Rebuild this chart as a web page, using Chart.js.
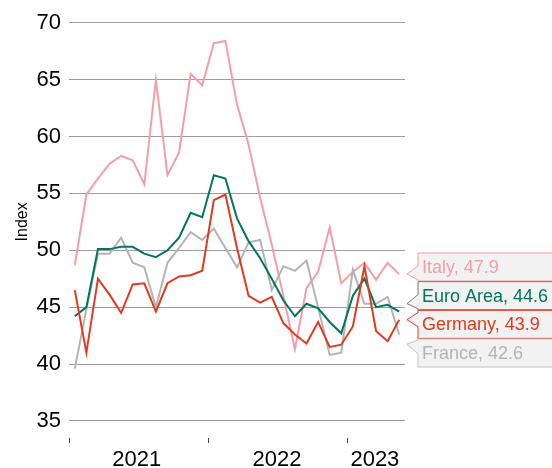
<!DOCTYPE html>
<html>
<head>
<meta charset="utf-8">
<script src="https://cdn.jsdelivr.net/npm/chart.js@4/dist/chart.umd.min.js"></script>
<style>
  html, body { margin: 0; padding: 0; background: #fff; }
  #wrap { width: 552px; height: 468px; position: relative; }
</style>
</head>
<body>
<div id="wrap"><canvas id="chart"></canvas></div>
<script>
// monthly values, Jan 2021 .. May 2023
const months = [
  'Jan 2021', 'Feb 2021', 'Mar 2021', 'Apr 2021', 'May 2021', 'Jun 2021', 'Jul 2021', 'Aug 2021',
  'Sep 2021', 'Oct 2021', 'Nov 2021', 'Dec 2021', 'Jan 2022', 'Feb 2022', 'Mar 2022', 'Apr 2022',
  'May 2022', 'Jun 2022', 'Jul 2022', 'Aug 2022', 'Sep 2022', 'Oct 2022', 'Nov 2022', 'Dec 2022',
  'Jan 2023', 'Feb 2023', 'Mar 2023', 'Apr 2023', 'May 2023'
];
const italy = [48.7, 54.9, 56.3, 57.6, 58.3, 57.9, 55.8, 65.0, 56.6, 58.6, 65.5, 64.5, 68.2, 68.4, 62.8,
  59.3, 54.6, 50.5, 46.0, 41.3, 46.7, 48.1, 52.0, 47.1, 48.1, 48.9, 47.4, 48.9, 47.9];
const euroArea = [44.2, 45.0, 50.1, 50.1, 50.3, 50.3, 49.7, 49.4, 50.0, 51.1, 53.3, 52.9, 56.6, 56.3, 52.8,
  50.8, 49.3, 47.5, 45.6, 44.2, 45.3, 44.9, 43.7, 42.7, 46.0, 47.5, 45.0, 45.2, 44.6];
const germany = [46.5, 41.0, 47.5, 46.1, 44.5, 47.0, 47.1, 44.6, 47.1, 47.7, 47.8, 48.2, 54.4, 54.9, 50.2,
  46.0, 45.4, 45.9, 43.6, 42.6, 41.8, 43.7, 41.5, 41.7, 43.3, 48.6, 42.9, 42.0, 43.9];
const france = [39.6, 44.8, 49.7, 49.7, 51.1, 48.9, 48.5, 45.0, 48.9, 50.2, 51.6, 50.9, 51.9, 50.2, 48.5,
  50.7, 50.9, 46.5, 48.6, 48.2, 49.1, 45.0, 40.8, 41.0, 48.3, 45.3, 45.3, 45.9, 42.6];

const yTicks = [35, 40, 45, 50, 55, 60, 65, 70];
const yearLabels = ['2021', '2022', '2023'];
const yearStarts = [0, 12, 24];          // month index where each year begins
const yearLabelPos = [5.85, 17.95, 26.4]; // where the year text sits

const series = [
  { name: 'Germany', data: germany, color: '#e03a1f', box: '#e03a1f' },
  { name: 'Euro Area', data: euroArea, color: '#00775c', box: '#7a7a7a' },
  { name: 'France', data: france, color: '#b4b4b4', box: '#c4c4c4' },
  { name: 'Italy', data: italy, color: '#f59ea8', box: '#f59ea8' }
];

const FONT = "'Liberation Sans', Arial, sans-serif";
Chart.defaults.font.family = FONT;
Chart.defaults.color = '#000';

const toPoints = arr => arr.map((v, i) => ({ x: i + 0.5, y: v }));

// callout boxes at the right end of each line, plus the y title
const endLabels = {
  id: 'endLabels',
  afterDatasetsDraw(chart) {
    const ctx = chart.ctx;
    const ys = chart.scales.y;
    const boxH = 28, step = 28.7;
    const tipX = 407, boxL = 418, boxR = 560;
    const items = series.map(s => {
      const last = s.data[s.data.length - 1];
      return { s, last, py: ys.getPixelForValue(last) };
    }).sort((a, b) => a.py - b.py);
    const mean = items.reduce((t, it) => t + it.py, 0) / items.length;
    ctx.save();
    items.forEach((it, i) => {
      const cy = mean + (i - (items.length - 1) / 2) * step;
      const top = cy - boxH / 2, bottom = cy + boxH / 2;
      const tipY = Math.min(Math.max(it.py, top + 5), bottom - 6);
      const half = 7;
      const baseY = Math.min(Math.max(tipY, top + half + 1), bottom - half - 1);
      ctx.beginPath();
      ctx.moveTo(boxL, top);
      ctx.lineTo(boxR, top);
      ctx.lineTo(boxR, bottom);
      ctx.lineTo(boxL, bottom);
      ctx.lineTo(boxL, baseY + half);
      ctx.lineTo(tipX, tipY);
      ctx.lineTo(boxL, baseY - half);
      ctx.closePath();
      ctx.fillStyle = '#f2f2f2';
      ctx.fill();
      ctx.lineWidth = 1;
      ctx.strokeStyle = it.s.box;
      ctx.stroke();
      ctx.fillStyle = it.s.color;
      ctx.font = '18px ' + FONT;
      ctx.textBaseline = 'middle';
      ctx.textAlign = 'left';
      ctx.fillText(it.s.name + ', ' + it.last.toFixed(1), 422, cy + 1);
    });

    // axis title
    const midY = (ys.getPixelForValue(yTicks[0]) + ys.getPixelForValue(yTicks[yTicks.length - 1])) / 2;
    ctx.translate(22.5, midY);
    ctx.rotate(-Math.PI / 2);
    ctx.fillStyle = '#000';
    ctx.font = '16px ' + FONT;
    ctx.textAlign = 'center';
    ctx.textBaseline = 'middle';
    ctx.fillText('Index', 0, 0);
    ctx.restore();
  }
};

new Chart(document.getElementById('chart'), {
  type: 'line',
  data: {
    datasets: series.map(s => ({
      label: s.name,
      data: toPoints(s.data),
      borderColor: s.color,
      backgroundColor: s.color,
      borderWidth: 2,
      pointRadius: 0,
      tension: 0
    }))
  },
  options: {
    responsive: true,
    maintainAspectRatio: false,
    animation: false,
    layout: { padding: { left: 0, right: 147, top: 22.7, bottom: 0 } },
    plugins: { legend: { display: false }, tooltip: { enabled: false } },
    scales: {
      x: {
        type: 'linear',
        min: 0,
        max: months.length,
        afterBuildTicks: s => {
          s.ticks = yearStarts.concat(yearLabelPos).sort((a, b) => a - b).map(v => ({ value: v }));
        },
        afterFit: s => { s.height = 30; },
        border: { display: false },
        grid: {
          drawOnChartArea: false,
          tickLength: 5,
          tickWidth: 1,
          tickColor: c => (c.tick && yearStarts.includes(c.tick.value)) ? '#444' : 'rgba(0,0,0,0)'
        },
        ticks: {
          autoSkip: false,
          maxRotation: 0,
          padding: 4,
          font: { size: 22 },
          callback: v => {
            const i = yearLabelPos.indexOf(v);
            return i >= 0 ? yearLabels[i] : '';
          }
        }
      },
      y: {
        min: 33.5,
        max: 70,
        afterBuildTicks: s => { s.ticks = yTicks.map(v => ({ value: v })); },
        afterFit: s => { s.width = 69; },
        border: { display: false },
        grid: { color: '#9c9c9c', lineWidth: 1, drawTicks: false },
        ticks: { padding: 8, font: { size: 22 } }
      }
    }
  },
  plugins: [endLabels]
});
</script>
</body>
</html>
